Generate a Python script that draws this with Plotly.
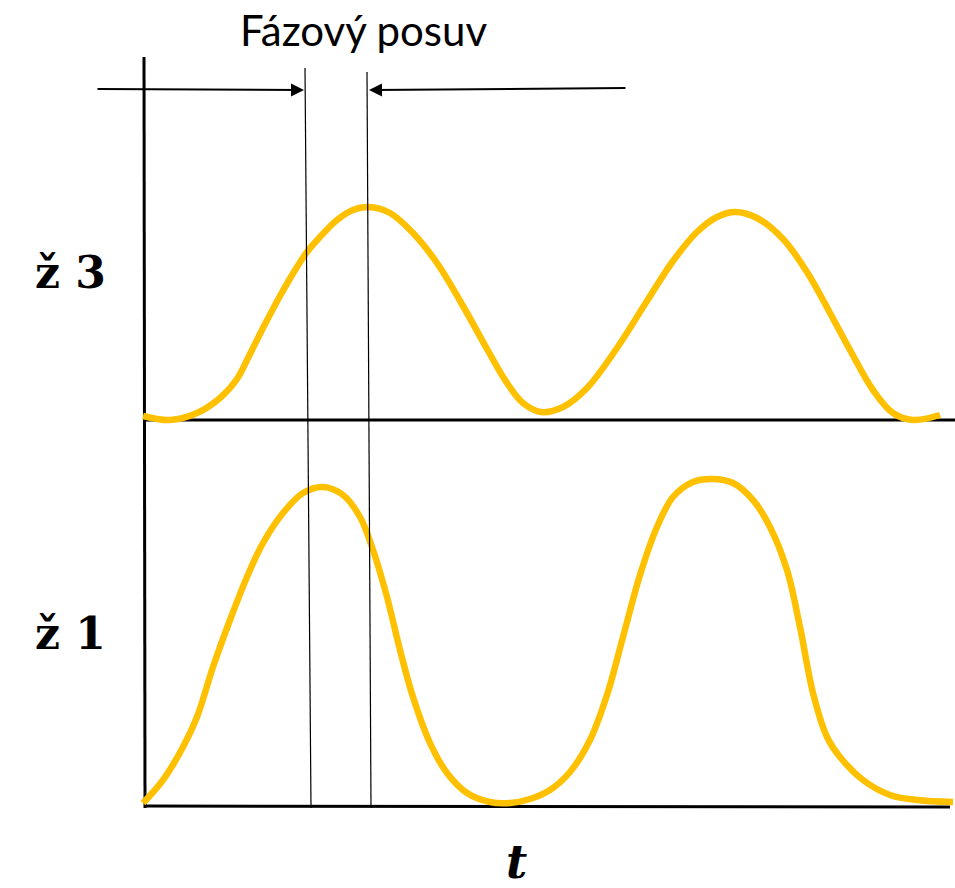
import plotly.graph_objects as go

# Curve "ž 3" (upper trace) – t position and level, in drawing units
z3_t = [143, 170, 197, 220, 237, 250, 263, 280, 297, 307, 320, 337, 353, 368, 390, 413, 437, 463, 487,
        507, 523, 541, 563, 587, 617, 647, 673, 697, 717, 735, 757, 783, 807, 830, 850, 873, 893, 913, 940]
z3_v = [416, 420, 413, 398, 379, 354, 328, 296, 267, 252, 237, 220, 210, 207, 213, 233, 263, 306, 349,
        383, 403, 412, 407, 388, 348, 301, 261, 232, 217, 212, 218, 239, 272, 313, 350, 390, 413, 420, 415]

# Curve "ž 1" (lower trace)
z1_t = [143, 163, 183, 197, 213, 230, 247, 263, 283, 303, 323, 343, 360, 373, 387, 400, 413, 430, 447,
        467, 490, 510, 530, 550, 570, 590, 607, 623, 640, 657, 673, 693, 712, 733, 753, 770, 787, 800,
        813, 827, 840, 863, 890, 917, 953]
z1_v = [803, 780, 747, 717, 667, 620, 577, 543, 513, 493, 487, 495, 517, 550, 597, 650, 697, 743, 773,
        793, 802, 803, 799, 790, 772, 740, 695, 637, 575, 527, 497, 482, 479, 483, 500, 527, 570, 627,
        693, 737, 757, 780, 795, 800, 802]

# Labels
labels = ["ž 3", "ž 1"]
label_pos_t = [70, 70]
label_pos_v = [272, 633]
title_text = "Fázový posuv"
axis_label = "t"

# Phase-shift markers (t at top, t at bottom)
marker_top_t = [305, 367]
marker_bot_t = [311, 371]
marker_top_v = [68, 72]
marker_bot_v = 808

# Axes geometry
v_axis_t = 144
v_axis_top = 57
v_axis_bot = 808
base3_v = 420
base1_v = 806
base_end_t = 955
base1_end_t = 950

COLOR = "#FFC000"

fig = go.Figure()
fig.add_trace(go.Scatter(x=z3_t, y=z3_v, mode="lines", line=dict(color=COLOR, width=6.5, shape="spline", smoothing=1.0),
                         hoverinfo="skip", showlegend=False))
fig.add_trace(go.Scatter(x=z1_t, y=z1_v, mode="lines", line=dict(color=COLOR, width=6.5, shape="spline", smoothing=1.0),
                         hoverinfo="skip", showlegend=False))

shapes = []
# vertical axis
shapes.append(dict(type="line", x0=v_axis_t, x1=v_axis_t + 1, y0=v_axis_top, y1=v_axis_bot,
                   line=dict(color="black", width=3), layer="below"))
# baselines
shapes.append(dict(type="line", x0=v_axis_t, x1=base_end_t, y0=base3_v, y1=base3_v,
                   line=dict(color="black", width=3), layer="below"))
shapes.append(dict(type="line", x0=v_axis_t, x1=base1_end_t, y0=base1_v, y1=base1_v + 1,
                   line=dict(color="black", width=3), layer="below"))
# marker lines
for tt, tb, vt in zip(marker_top_t, marker_bot_t, marker_top_v):
    shapes.append(dict(type="line", x0=tt, x1=tb, y0=vt, y1=marker_bot_v,
                       line=dict(color="black", width=1.2), layer="above"))

annotations = []
# arrows
annotations.append(dict(x=304, y=90, ax=96, ay=89, xref="x", yref="y", axref="x", ayref="y",
                        showarrow=True, arrowhead=2, arrowsize=1.3, arrowwidth=2, arrowcolor="black", text=""))
annotations.append(dict(x=369, y=90, ax=627, ay=88, xref="x", yref="y", axref="x", ayref="y",
                        showarrow=True, arrowhead=2, arrowsize=1.3, arrowwidth=2, arrowcolor="black", text=""))
# texts
annotations.append(dict(x=363, y=30, xref="x", yref="y", text=title_text, showarrow=False,
                        font=dict(family="Lato", size=42, color="black")))
for lab, lt, lv in zip(labels, label_pos_t, label_pos_v):
    annotations.append(dict(x=lt, y=lv, xref="x", yref="y", text="<b>" + lab + "</b>", showarrow=False,
                            font=dict(family="DejaVu Serif", size=44, color="black")))
annotations.append(dict(x=516, y=862, xref="x", yref="y", text="<i><b>" + axis_label + "</b></i>", showarrow=False,
                        font=dict(family="DejaVu Serif", size=46, color="black")))

fig.update_layout(
    width=955, height=888,
    margin=dict(l=0, r=0, t=0, b=0),
    paper_bgcolor="white", plot_bgcolor="white",
    xaxis=dict(range=[0, 955], visible=False, fixedrange=True),
    yaxis=dict(range=[888, 0], visible=False, fixedrange=True),
    shapes=shapes, annotations=annotations,
)

fig.write_html("out.html", config={"displayModeBar": False},
               post_script="document.body.style.margin='0px';document.body.style.overflow='hidden';")
